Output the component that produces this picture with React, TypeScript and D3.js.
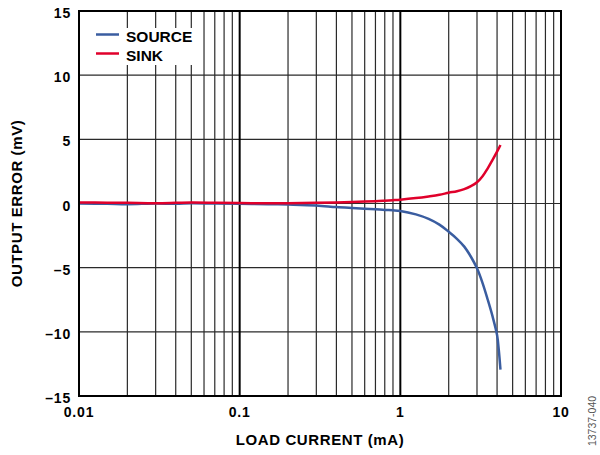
import React from "react";
import * as d3 from "d3";

const currents = [0.01, 0.015, 0.02, 0.03, 0.04, 0.05, 0.07, 0.1, 0.15, 0.2, 0.3, 0.4, 0.5, 0.6, 0.7, 0.8, 0.9, 1.0, 1.25, 1.5, 1.75, 2.0, 2.25, 2.5, 2.75, 3.0, 3.25, 3.5, 3.75, 4.0, 4.1, 4.2];
const sourceErr = [0.0, -0.02, -0.05, 0.0, -0.02, 0.02, 0.0, -0.02, -0.05, -0.08, -0.15, -0.28, -0.35, -0.4, -0.45, -0.5, -0.53, -0.58, -0.85, -1.2, -1.65, -2.2, -2.75, -3.36, -4.15, -5.05, -6.2, -7.5, -8.8, -10.25, -11.4, -12.95];
const sinkErr = [0.08, 0.06, 0.05, 0.02, 0.05, 0.08, 0.06, 0.03, 0.02, 0.02, 0.05, 0.08, 0.12, 0.15, 0.18, 0.22, 0.26, 0.3, 0.42, 0.55, 0.68, 0.84, 0.96, 1.12, 1.35, 1.65, 2.12, 2.74, 3.4, 4.04, 4.3, 4.56];

const xTicks = [0.01, 0.1, 1, 10];
const xTickLabels = ["0.01", "0.1", "1", "10"];
const yTicks = [15, 10, 5, 0, -5, -10, -15];
const yTickLabels = ["15", "10", "5", "0", "–5", "–10", "–15"];
const seriesNames = ["SOURCE", "SINK"];
const seriesColors = ["#3a5da0", "#e0002b"];

const L = 79, R = 561, T = 11, B = 396;
const FONT = "Arial, 'Liberation Sans', sans-serif";

export default function App() {
  const x = d3.scaleLog().domain([0.01, 10]).range([L, R]);
  const y = d3.scaleLinear().domain([-15, 15]).range([B, T]);

  const minor: number[] = [];
  for (const dec of [0.01, 0.1, 1]) {
    for (let k = 2; k <= 9; k++) minor.push(dec * k);
  }

  const line = d3
    .line<[number, number]>()
    .x((d) => x(d[0]))
    .y((d) => y(d[1]))
    .curve(d3.curveCatmullRom.alpha(0.5));

  const srcPts = currents.map((c, i) => [c, sourceErr[i]] as [number, number]);
  const sinkPts = currents.map((c, i) => [c, sinkErr[i]] as [number, number]);

  return (
    <svg width={600} height={455} style={{ display: "block", position: "absolute", left: 0, top: 0 }}>
      <rect x={0} y={0} width={600} height={455} fill="#fff" />
      {minor.map((v) => (
        <line key={"m" + v} x1={x(v)} x2={x(v)} y1={T} y2={B} stroke="#2a2a2a" strokeWidth={1.2} />
      ))}
      {yTicks.slice(1, -1).map((v) => (
        <line key={"h" + v} x1={L} x2={R} y1={y(v)} y2={y(v)} stroke="#2a2a2a" strokeWidth={1.2} />
      ))}
      {[0.1, 1].map((v) => (
        <line key={"d" + v} x1={x(v)} x2={x(v)} y1={T} y2={B} stroke="#000" strokeWidth={2} />
      ))}
      <rect x={85} y={28} width={112} height={37} fill="#fff" />
      {seriesNames.map((n, i) => (
        <g key={n}>
          <line x1={96} x2={119} y1={34.5 + i * 19} y2={34.5 + i * 19} stroke={seriesColors[i]} strokeWidth={2.5} />
          <text x={126} y={42 + i * 19} fontFamily={FONT} fontWeight="bold" fontSize={15.5} fill="#000">
            {n}
          </text>
        </g>
      ))}
      <path d={line(srcPts) || ""} fill="none" stroke={seriesColors[0]} strokeWidth={2.5} />
      <path d={line(sinkPts) || ""} fill="none" stroke={seriesColors[1]} strokeWidth={2.5} />
      <rect x={L} y={T} width={R - L} height={B - T} fill="none" stroke="#000" strokeWidth={2} />
      {yTicks.map((v, i) => (
        <text key={"yl" + v} x={71} y={y(v) + 7} textAnchor="end" fontFamily={FONT} fontWeight="bold" fontSize={14} letterSpacing={0.8}>
          {yTickLabels[i]}
        </text>
      ))}
      {xTicks.map((v, i) => (
        <text key={"xl" + v} x={x(v)} y={417} textAnchor="middle" fontFamily={FONT} fontWeight="bold" fontSize={14} letterSpacing={0.8}>
          {xTickLabels[i]}
        </text>
      ))}
      <text x={320} y={445} textAnchor="middle" fontFamily={FONT} fontWeight="bold" fontSize={15} letterSpacing={0.6}>
        LOAD CURRENT (mA)
      </text>
      <text
        transform={`translate(22,${(T + B) / 2}) rotate(-90)`}
        textAnchor="middle"
        fontFamily={FONT}
        fontWeight="bold"
        fontSize={15}
        letterSpacing={0.6}
      >
        OUTPUT ERROR (mV)
      </text>
      <text
        transform={`translate(596,421) rotate(-90)`}
        textAnchor="middle"
        fontFamily={FONT}
        fontSize={10.5}
        fill="#555"
      >
        13737-040
      </text>
    </svg>
  );
}
